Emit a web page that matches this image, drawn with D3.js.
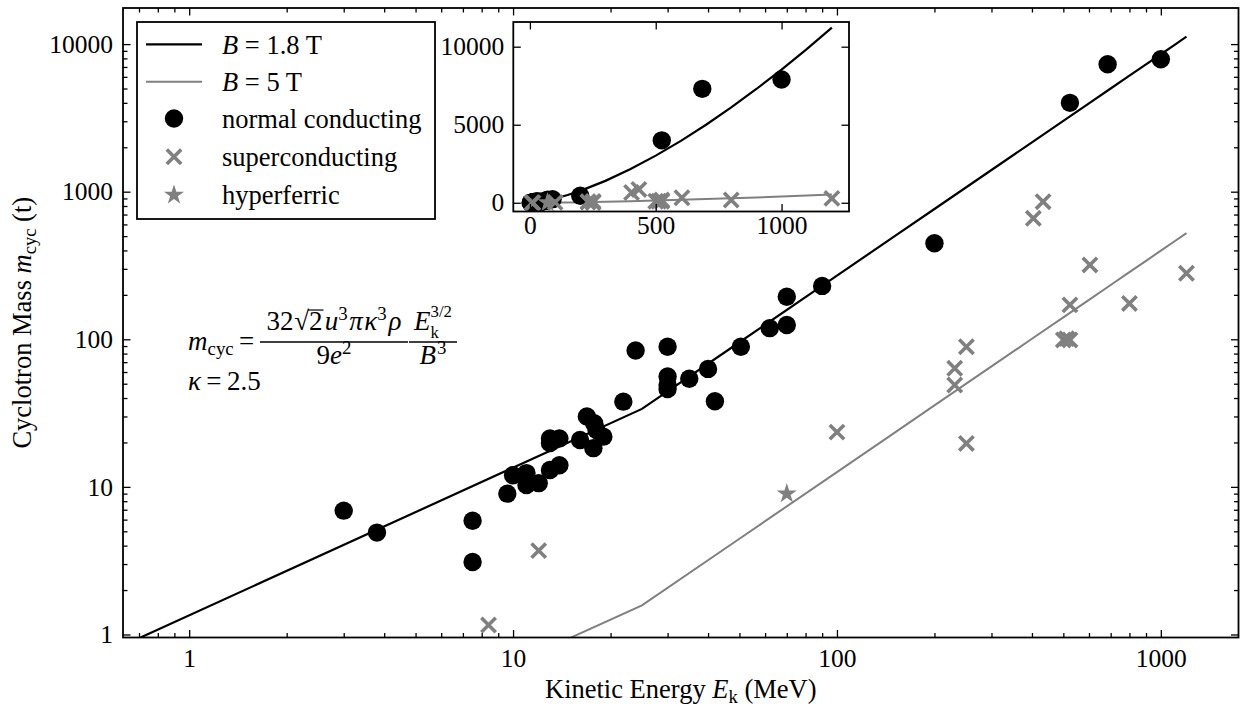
<!DOCTYPE html>
<html lang="en">
<head>
<meta charset="UTF-8">
<title>Cyclotron mass vs kinetic energy</title>
<script src="https://d3js.org/d3.v7.min.js"></script>
<style>
  body { margin: 0; background: #fff; }
  svg text { font-family: "Liberation Serif", "Tinos", "Times New Roman", serif; fill: #000; }
</style>
</head>
<body>
<svg id="chart" width="1242" height="707"></svg>
<script>
// normal conducting cyclotrons (kinetic energy in MeV, mass in t)
const normalE = [3.0, 3.8, 7.5, 7.5, 9.6, 10, 11, 11, 12, 13, 13.9, 13, 13.9, 13, 16.9, 16.1, 17.8, 18.1, 19, 17.7,
                 21.9, 23.9, 30, 30, 30, 30, 35, 40, 42, 50.5, 62, 70, 70, 90, 200, 524, 685, 1000];
const normalM = [6.9, 4.9, 5.9, 3.1, 9.0, 12, 12.4, 10.3, 10.6, 13, 14, 21.3, 21.3, 19.8, 30, 20.8, 27, 24.3, 21.9, 18.3,
                 37.8, 84, 89, 56, 49, 46, 54, 63, 38, 89, 119, 125, 194, 230, 447, 4000, 7300, 7900];
// superconducting
const superE = [8.4, 12, 100, 231, 231, 251, 251, 404, 433, 500, 512, 524, 524, 604, 800, 1200];
const superM = [1.16, 3.7, 23.5, 63.6, 49, 89, 19.7, 660, 856, 99, 101, 99, 171, 319, 175, 280];
// hyperferric
const hyperE = [70];
const hyperM = [9];
// model curves
const lineE   = [0, 25, 50, 100, 150, 200, 300, 400, 500, 600, 700, 800, 900, 1000, 1100, 1200];
const line18T = [0, 33.75, 95.5, 270, 496, 763.7, 1403, 2160, 3019, 3968, 5000, 6109, 7290, 8538, 9850, 11224];
const line5T  = [0, 1.575, 4.455, 12.6, 23.14, 35.63, 65.46, 100.8, 140.9, 185.1, 233.3, 285.0, 340.1, 398.3, 459.6, 523.7];

const xMajor = [1, 10, 100, 1000];
const yMajor = [1, 10, 100, 1000, 10000];
const insetXTicks = [0, 500, 1000];
const insetYTicks = [0, 5000, 10000];

const FS = 25.5;   // tick labels
const LS = 26.5;   // legend and axis labels
const GREY = "#808080";

const svg = d3.select("#chart");
const defs = svg.append("defs");

// main axes box
const L = 123, R = 1238.5, T = 8, B = 637.5;
const x = d3.scaleLog().domain([0.6247, 1737]).range([L, R]);
const y = d3.scaleLog().domain([0.954, 17560]).range([B, T]);

defs.append("clipPath").attr("id", "clipMain")
  .append("rect").attr("x", L).attr("y", T).attr("width", R - L).attr("height", B - T);

const normal = normalE.map((e, i) => ({e: e, m: normalM[i]}));
const sup = superE.map((e, i) => ({e: e, m: superM[i]}));
const hyper = hyperE.map((e, i) => ({e: e, m: hyperM[i]}));

function crossPath(s) { return "M" + (-s) + "," + (-s) + "L" + s + "," + s + "M" + (-s) + "," + s + "L" + s + "," + (-s); }
const starPath = d3.symbol().type(d3.symbolStar).size(125)();

// matplotlib clips non-positive values on log axes to a tiny number
const tiny = v => v > 0 ? v : 1e-300;

function drawSeries(g, sx, sy, logMode) {
  const fx = d => sx(logMode ? tiny(d) : d);
  const fy = d => sy(logMode ? tiny(d) : d);
  const line = d3.line().x(d => fx(d[0])).y(d => fy(d[1]));
  g.append("path").datum(lineE.map((e, i) => [e, line18T[i]]))
    .attr("d", line).attr("fill", "none").attr("stroke", "#000").attr("stroke-width", 2.2);
  g.append("path").datum(lineE.map((e, i) => [e, line5T[i]]))
    .attr("d", line).attr("fill", "none").attr("stroke", GREY).attr("stroke-width", 2);

  g.selectAll(".nc").data(normal).enter().append("circle")
    .attr("cx", d => fx(d.e)).attr("cy", d => fy(d.m)).attr("r", 9.2).attr("fill", "#000");
  g.selectAll(".sc").data(sup).enter().append("path")
    .attr("transform", d => "translate(" + fx(d.e) + "," + fy(d.m) + ")")
    .attr("d", crossPath(7.2)).attr("stroke", GREY).attr("stroke-width", 3.6).attr("fill", "none");
  g.selectAll(".hf").data(hyper).enter().append("path")
    .attr("transform", d => "translate(" + fx(d.e) + "," + fy(d.m) + ")")
    .attr("d", starPath).attr("fill", GREY);
}

function styleAxis(g) {
  g.select(".domain").remove();
  g.attr("font-family", "Liberation Serif").attr("font-size", FS);
  g.selectAll(".tick line").attr("stroke", "#000").attr("stroke-width", 1.3);
  g.selectAll(".tick text").attr("fill", "#000");
}

function minorTicks(scale) {
  const d = scale.domain(), out = [];
  for (let k = -1; k <= 4; k++) {
    for (let j = 2; j <= 9; j++) {
      const v = j * Math.pow(10, k);
      if (v > d[0] && v < d[1]) out.push(v);
    }
  }
  return out;
}

const main = svg.append("g");
drawSeries(main.append("g").attr("clip-path", "url(#clipMain)"), x, y, true);

// ticks on all four sides, pointing inward
const fmt = d3.format("d");
const ax = main.append("g");
ax.append("g").attr("transform", "translate(0," + B + ")")
  .call(d3.axisBottom(x).tickValues(xMajor).tickFormat(fmt).tickSizeInner(-7.5).tickSizeOuter(0).tickPadding(11)).call(styleAxis);
ax.append("g").attr("transform", "translate(0," + B + ")")
  .call(d3.axisBottom(x).tickValues(minorTicks(x)).tickFormat("").tickSizeInner(-4.5).tickSizeOuter(0)).call(styleAxis);
ax.append("g").attr("transform", "translate(0," + T + ")")
  .call(d3.axisTop(x).tickValues(xMajor).tickFormat("").tickSizeInner(-7.5).tickSizeOuter(0)).call(styleAxis);
ax.append("g").attr("transform", "translate(0," + T + ")")
  .call(d3.axisTop(x).tickValues(minorTicks(x)).tickFormat("").tickSizeInner(-4.5).tickSizeOuter(0)).call(styleAxis);
ax.append("g").attr("transform", "translate(" + L + ",0)")
  .call(d3.axisLeft(y).tickValues(yMajor).tickFormat(fmt).tickSizeInner(-7.5).tickSizeOuter(0).tickPadding(10)).call(styleAxis);
ax.append("g").attr("transform", "translate(" + L + ",0)")
  .call(d3.axisLeft(y).tickValues(minorTicks(y)).tickFormat("").tickSizeInner(-4.5).tickSizeOuter(0)).call(styleAxis);
ax.append("g").attr("transform", "translate(" + R + ",0)")
  .call(d3.axisRight(y).tickValues(yMajor).tickFormat("").tickSizeInner(-7.5).tickSizeOuter(0)).call(styleAxis);
ax.append("g").attr("transform", "translate(" + R + ",0)")
  .call(d3.axisRight(y).tickValues(minorTicks(y)).tickFormat("").tickSizeInner(-4.5).tickSizeOuter(0)).call(styleAxis);

main.append("rect").attr("x", L).attr("y", T).attr("width", R - L).attr("height", B - T)
  .attr("fill", "none").attr("stroke", "#000").attr("stroke-width", 1.8);

// axis labels
const xl = svg.append("text").attr("x", (L + R) / 2).attr("y", 698).attr("text-anchor", "middle").attr("font-size", LS);
xl.append("tspan").text("Kinetic Energy ");
xl.append("tspan").attr("font-style", "italic").text("E");
xl.append("tspan").attr("font-size", LS * 0.7).attr("dy", 5).text("k");
xl.append("tspan").attr("dy", -5).text(" (MeV)");

const yl = svg.append("text").attr("transform", "translate(31," + (T + B) / 2 + ") rotate(-90)")
  .attr("text-anchor", "middle").attr("font-size", LS);
yl.append("tspan").text("Cyclotron Mass ");
yl.append("tspan").attr("font-style", "italic").text("m");
yl.append("tspan").attr("font-size", LS * 0.7).attr("dy", 5).text("cyc");
yl.append("tspan").attr("dy", -5).text(" (t)");

// legend
const lg = svg.append("g");
lg.append("rect").attr("x", 137).attr("y", 22).attr("width", 298).attr("height", 197)
  .attr("fill", "#fff").attr("stroke", "#000").attr("stroke-width", 1.8);
const rows = [44.3, 81.7, 118.5, 156.7, 195];
const hx0 = 146, hx1 = 202, hxm = 174, tx = 222;
lg.append("line").attr("x1", hx0).attr("x2", hx1).attr("y1", rows[0]).attr("y2", rows[0]).attr("stroke", "#000").attr("stroke-width", 2.2);
lg.append("line").attr("x1", hx0).attr("x2", hx1).attr("y1", rows[1]).attr("y2", rows[1]).attr("stroke", GREY).attr("stroke-width", 2);
lg.append("circle").attr("cx", hxm).attr("cy", rows[2]).attr("r", 9.2).attr("fill", "#000");
lg.append("path").attr("transform", "translate(" + hxm + "," + rows[3] + ")").attr("d", crossPath(7.2))
  .attr("stroke", GREY).attr("stroke-width", 3.6).attr("fill", "none");
lg.append("path").attr("transform", "translate(" + hxm + "," + rows[4] + ")").attr("d", starPath).attr("fill", GREY);
function legText(row) { return lg.append("text").attr("x", tx).attr("y", rows[row]).attr("dy", "0.35em").attr("font-size", LS); }
let t0 = legText(0); t0.append("tspan").attr("font-style", "italic").text("B"); t0.append("tspan").text(" = 1.8 T");
let t1 = legText(1); t1.append("tspan").attr("font-style", "italic").text("B"); t1.append("tspan").text(" = 5 T");
legText(2).text("normal conducting");
legText(3).text("superconducting");
legText(4).text("hyperferric");

// inset (linear axes)
const iL = 513.3, iR = 849, iT = 22, iB = 211.5;
const ix = d3.scaleLinear().domain([-66, 1268]).range([iL, iR]);
const iy = d3.scaleLinear().domain([-560, 11583]).range([iB, iT]);
defs.append("clipPath").attr("id", "clipInset")
  .append("rect").attr("x", iL).attr("y", iT).attr("width", iR - iL).attr("height", iB - iT);
const inset = svg.append("g");
inset.append("rect").attr("x", iL).attr("y", iT).attr("width", iR - iL).attr("height", iB - iT).attr("fill", "#fff");
drawSeries(inset.append("g").attr("clip-path", "url(#clipInset)"), ix, iy, false);
inset.append("g").attr("transform", "translate(0," + iB + ")")
  .call(d3.axisBottom(ix).tickValues(insetXTicks).tickFormat(fmt).tickSizeInner(-7.5).tickSizeOuter(0).tickPadding(4)).call(styleAxis);
inset.append("g").attr("transform", "translate(0," + iT + ")")
  .call(d3.axisTop(ix).tickValues(insetXTicks).tickFormat("").tickSizeInner(-7.5).tickSizeOuter(0)).call(styleAxis);
inset.append("g").attr("transform", "translate(" + iL + ",0)")
  .call(d3.axisLeft(iy).tickValues(insetYTicks).tickFormat(fmt).tickSizeInner(-7.5).tickSizeOuter(0).tickPadding(9)).call(styleAxis);
inset.append("g").attr("transform", "translate(" + iR + ",0)")
  .call(d3.axisRight(iy).tickValues(insetYTicks).tickFormat("").tickSizeInner(-7.5).tickSizeOuter(0)).call(styleAxis);
inset.append("rect").attr("x", iL).attr("y", iT).attr("width", iR - iL).attr("height", iB - iT)
  .attr("fill", "none").attr("stroke", "#000").attr("stroke-width", 1.8);

// formula annotation
const MF = 27;
function mathRun(g, x0, y0, parts) {
  let cx = x0, held = null;
  parts.forEach(p => {
    const size = MF * (p.s || 1);
    const t = g.append("text").attr("x", cx).attr("y", y0 + (p.dy || 0) * MF)
      .attr("font-size", size).attr("font-style", p.i ? "italic" : "normal").text(p.t);
    const w = t.node().getComputedTextLength();
    if (p.bar) g.append("line").attr("x1", cx - 1).attr("x2", cx + w + 1)
      .attr("y1", y0 - 0.74 * MF).attr("y2", y0 - 0.74 * MF).attr("stroke", "#000").attr("stroke-width", 1.2);
    if (p.hold) { held = w; }
    else { cx += held !== null ? Math.max(w, held) : w; held = null; }
    cx += (p.gap || 0) * MF;
  });
  return cx - x0;
}
function frac(g, x0, w, num, den, yNum, yDen, yBar) {
  const gn = g.append("g"), gd = g.append("g");
  const wn = mathRun(gn, 0, 0, num), wd = mathRun(gd, 0, 0, den);
  gn.attr("transform", "translate(" + (x0 + (w - wn) / 2) + "," + yNum + ")");
  gd.attr("transform", "translate(" + (x0 + (w - wd) / 2) + "," + yDen + ")");
  g.append("line").attr("x1", x0).attr("x2", x0 + w).attr("y1", yBar).attr("y2", yBar)
    .attr("stroke", "#000").attr("stroke-width", 1.3);
}
const fg = svg.append("g");
const g1 = 0.06;
const sup3 = {t: "3", s: 0.7, dy: -0.38, gap: g1};
mathRun(fg, 188, 350, [{t: "m", i: 1}, {t: "cyc", s: 0.7, dy: 0.2, gap: 0.2}, {t: "="}]);
frac(fg, 260, 148,
  [{t: "32", gap: 0.02}, {t: "\u221A"}, {t: "2", bar: 1, gap: 0.08}, {t: "u", i: 1}, sup3, {t: "\u03C0", i: 1, gap: g1},
   {t: "\u03BA", i: 1}, sup3, {t: "\u03C1", i: 1}],
  [{t: "9"}, {t: "e", i: 1}, {t: "2", s: 0.7, dy: -0.38}],
  330, 364, 342);
frac(fg, 409, 48,
  [{t: "E", i: 1}, {t: "k", s: 0.62, dy: 0.3, hold: 1}, {t: "3/2", s: 0.62, dy: -0.5}],
  [{t: "B", i: 1, gap: 0.04}, {t: "3", s: 0.7, dy: -0.38}],
  330, 364, 342);
mathRun(fg, 188, 390, [{t: "\u03BA", i: 1, gap: 0.2}, {t: "=", gap: 0.2}, {t: "2.5"}]);
</script>
</body>
</html>
